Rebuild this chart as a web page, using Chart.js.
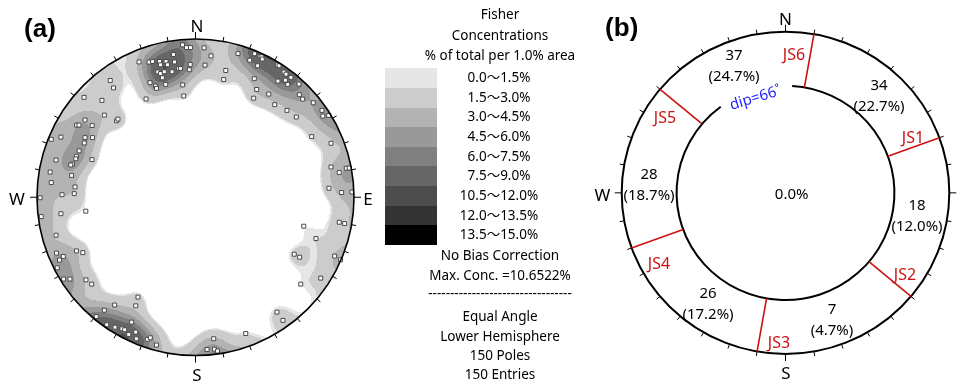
<!DOCTYPE html>
<html><head><meta charset="utf-8">
<script src="https://cdn.jsdelivr.net/npm/chart.js@4.4.1/dist/chart.umd.min.js"></script>
<style>
html,body{margin:0;padding:0;background:#fff}
body{width:962px;height:384px;position:relative;overflow:hidden;font-family:"Noto Sans","Noto Sans CJK SC",sans-serif;color:#000}
canvas{position:absolute;top:0}
.t{position:absolute;white-space:nowrap;transform:translate(-50%,-50%);line-height:1}
.sw{position:absolute}
</style></head><body>
<canvas id="ca" width="390" height="384" style="left:0"></canvas>
<canvas id="cb" width="382" height="384" style="left:580px"></canvas>
<script>
// ---------------- DATA ----------------
// (a) poles, equal-angle lower-hemisphere net coordinates (east, north), unit = primitive radius
const poleEast = [-0.082,-0.057,-0.032,-0.139,-0.356,-0.293,-0.271,-0.227,-0.186,-0.132,-0.221,-0.177,-0.033,-0.107,-0.095,-0.238,-0.221,-0.197,-0.148,-0.039,-0.209,-0.287,-0.252,-0.246,-0.188,-0.081,-0.074,-0.312,0.054,0.098,0.060,0.191,0.178,
 0.268,0.373,0.407,0.418,0.421,0.342,0.392,0.516,0.527,0.558,0.571,0.602,0.520,0.567,0.582,0.653,0.371,0.386,0.367,0.462,0.655,0.676,0.743,0.500,0.577,0.636,0.798,0.803,0.840,0.733,0.855,
 0.855,0.907,0.951,0.970,0.842,0.922,0.987,0.907,0.941,0.683,0.760,0.623,0.657,0.878,0.915,
 0.790,0.664,0.514,0.552,0.317,
 0.115,0.073,0.120,0.139,
 -0.877,-0.834,-0.858,-0.751,-0.711,-0.872,-0.832,-0.792,-0.691,-0.655,-0.363,-0.377,-0.510,-0.575,-0.626,-0.403,-0.560,-0.508,-0.464,-0.447,-0.377,-0.421,-0.373,-0.304,-0.285,-0.246,
 -0.538,-0.517,-0.590,-0.703,-0.575,-0.498,-0.489,-0.697,-0.750,-0.735,-0.652,-0.849,-0.910,-0.697,-0.702,-0.650,-0.734,-0.751,-0.755,-0.776,-0.787,-0.880,-0.653,-0.917,-0.782,-0.910,-0.760,-0.765,-0.842,-0.980,-0.973,-0.849,-0.692,-0.880];
const poleNorth = [0.963,0.946,0.946,0.902,0.855,0.854,0.858,0.858,0.858,0.855,0.837,0.837,0.839,0.814,0.814,0.792,0.782,0.793,0.793,0.806,0.755,0.724,0.703,0.688,0.713,0.710,0.640,0.621,0.944,0.893,0.835,0.801,0.744,
 0.908,0.907,0.891,0.888,0.873,0.866,0.831,0.837,0.831,0.791,0.778,0.757,0.734,0.740,0.713,0.715,0.749,0.681,0.626,0.652,0.648,0.620,0.597,0.585,0.549,0.507,0.549,0.513,0.517,0.383,0.341,
 0.191,0.156,0.183,0.185,0.057,0.030,0.033,-0.158,-0.166,-0.183,-0.261,-0.360,-0.379,-0.372,-0.395,
 -0.511,-0.549,-0.726,-0.778,-0.861,
 -0.894,-0.962,-0.960,-0.972,
 -0.353,-0.374,-0.397,-0.339,-0.350,-0.446,-0.517,-0.517,-0.522,-0.549,-0.631,-0.686,-0.681,-0.714,-0.754,-0.789,-0.806,-0.821,-0.831,-0.837,-0.852,-0.867,-0.894,-0.898,-0.888,-0.934,
 0.738,0.691,0.612,0.631,0.519,0.483,0.494,0.488,0.456,0.456,0.453,0.380,0.366,0.377,0.343,0.377,0.293,0.259,0.243,0.210,0.204,0.235,0.238,0.159,0.138,0.093,0.065,0.023,0.016,-0.003,-0.122,-0.104,-0.088,-0.240];
// Fisher concentration bands (% of total per 1.0% area)
const contourLow  = [0.0, 1.5, 3.0, 4.5, 6.0, 7.5, 10.5, 12.0, 13.5];
const contourHigh = [1.5, 3.0, 4.5, 6.0, 7.5, 9.0, 12.0, 13.5, 15.0];
const maxConcValue = 10.6522;
const fisherK = 130;
const minShade = 1.3;
const poleCount = 150, entryCount = 150;
const compassLabels = ['N','E','S','W'];
// (b) joint sets
const setNames = ['JS1','JS2','JS3','JS4','JS5','JS6'];
const setBoundaryAz = [70, 130, 190, 250, 310, 10];
const sectorCounts = [18, 7, 26, 28, 37, 34];          // sector clockwise after each set boundary
const sectorPercent = ['12.0%','4.7%','17.2%','18.7%','24.7%','22.7%'];
const centerPercent = '0.0%';
const dipLimit = 66;

// ---------------- STYLE / LAYOUT ----------------
const bandColors = ['#e6e6e6','#cccccc','#b3b3b3','#999999','#808080','#666666','#4d4d4d','#333333','#000000'];
const innerR = 0.665, arcFromAz = 3.5, arcToAz = 323.5;
const setLabelPos = [[913,137],[905,274],[779,342],[659,263],[665,117],[794,54]];
const sectorLabelPos = [[917,204],[832,308],[708,292],[649,173],[734,54],[879,84]];

function addText(str,x,y,css){const d=document.createElement('div');d.className='t';d.textContent=str;d.style.left=x+'px';d.style.top=y+'px';Object.assign(d.style,css||{});document.body.appendChild(d);return d;}

function netGeom(chart){const xs=chart.scales.x,ys=chart.scales.y;const cx=xs.getPixelForValue(0),cy=ys.getPixelForValue(0);return {cx,cy,rx:xs.getPixelForValue(1)-cx,ry:cy-ys.getPixelForValue(1)};}
function drawTicks(ctx,g,lw){ctx.save();ctx.strokeStyle='#000';ctx.lineWidth=lw;
  for(let a=0;a<360;a+=10){const t=a*Math.PI/180,len=(a%90===0)?7:4.5;const s=Math.sin(t),c=Math.cos(t);
    ctx.beginPath();ctx.moveTo(g.cx+g.rx*s,g.cy-g.ry*c);ctx.lineTo(g.cx+(g.rx+len)*s,g.cy-(g.ry+len)*c);ctx.stroke();}
  ctx.restore();}

// ---------------- (a) stereonet ----------------
const pv = poleEast.map((e,i)=>{const n=poleNorth[i];const r2=e*e+n*n;const s=1/(1+r2);return [2*e*s,2*n*s,(1-r2)*s];});
function shade(v){if(v<minShade)return null;let k=0;for(let i=0;i<contourLow.length;i++){if(v>=contourLow[i])k=i;}return bandColors[k];}
let rawMax=0;
const contourPlugin={id:'contour',beforeDatasetsDraw(chart){
  const ctx=chart.ctx,xs=chart.scales.x,ys=chart.scales.y,g=netGeom(chart);
  const N=pv.length,K=fisherK;
  const L=Math.floor(g.cx-g.rx)-1,R=Math.ceil(g.cx+g.rx)+1,T=Math.floor(g.cy-g.ry)-1,B=Math.ceil(g.cy+g.ry)+1;
  const W=R-L+1,H=B-T+1;const vals=new Float32Array(W*H).fill(-1);
  for(let py=T;py<=B;py++)for(let px=L;px<=R;px++){
    const x=xs.getValueForPixel(px+0.5),y=ys.getValueForPixel(py+0.5);const r2=x*x+y*y;
    if(r2>1.03)continue;const s=1/(1+r2),e=2*x*s,n=2*y*s,d=(1-r2)*s;let sum=0;
    for(let j=0;j<N;j++){const p=pv[j];let c=e*p[0]+n*p[1]+d*p[2];if(c<0)c=-c;const q=K*(c-1);if(q>-30)sum+=Math.exp(q);}
    const v=K*sum/N;vals[(py-T)*W+(px-L)]=v;if(v>rawMax)rawMax=v;}
  const scale=maxConcValue/rawMax;
  ctx.save();ctx.beginPath();ctx.ellipse(g.cx,g.cy,g.rx,g.ry,0,0,Math.PI*2);ctx.clip();
  for(let py=T;py<=B;py++){let runStart=L,runCol=null;
    for(let px=L;px<=R+1;px++){let col=null;
      if(px<=R){const v=vals[(py-T)*W+(px-L)];if(v>=0)col=shade(v*scale);}
      if(col!==runCol){if(runCol){ctx.fillStyle=runCol;ctx.fillRect(runStart,py,px-runStart,1);}runStart=px;runCol=col;}
    }}
  ctx.restore();
},afterDatasetsDraw(chart){const ctx=chart.ctx,g=netGeom(chart);
  ctx.save();ctx.strokeStyle='#000';ctx.lineWidth=1.6;ctx.beginPath();ctx.ellipse(g.cx,g.cy,g.rx,g.ry,0,0,Math.PI*2);ctx.stroke();ctx.restore();
  drawTicks(ctx,g,1);}};

new Chart(document.getElementById('ca'),{type:'scatter',
  data:{datasets:[{data:poleEast.map((e,i)=>({x:e,y:poleNorth[i]})),pointStyle:'rect',pointRadius:2.8,pointHoverRadius:2.8,borderWidth:1,borderColor:'#4a4a4a',backgroundColor:'#ffffff'}]},
  options:{responsive:false,animation:false,events:[],layout:{padding:{left:37,right:36,top:39,bottom:28.5}},
    scales:{x:{type:'linear',min:-1,max:1,display:false},y:{type:'linear',min:-1,max:1,display:false}},
    plugins:{legend:{display:false},tooltip:{enabled:false}}},
  plugins:[contourPlugin]});

// ---------------- (b) joint-set diagram ----------------
const ringPlugin={id:'ring',beforeDatasetsDraw(chart){const ctx=chart.ctx,g=netGeom(chart);
  ctx.save();ctx.strokeStyle='#000';ctx.lineWidth=2;
  ctx.beginPath();ctx.ellipse(g.cx,g.cy,g.rx,g.ry,0,0,Math.PI*2);ctx.stroke();
  ctx.beginPath();ctx.ellipse(g.cx,g.cy,g.rx*innerR,g.ry*innerR,0,(arcFromAz-90)*Math.PI/180,(arcToAz-90)*Math.PI/180,false);ctx.stroke();
  ctx.restore();drawTicks(ctx,g,1);}};
const jsData=setBoundaryAz.map(a=>{const t=a*Math.PI/180;return {type:'line',data:[{x:innerR*Math.sin(t),y:innerR*Math.cos(t)},{x:Math.sin(t),y:Math.cos(t)}],
  borderColor:'#cc1111',borderWidth:1.6,pointRadius:0,pointHoverRadius:0,showLine:true,fill:false};});
new Chart(document.getElementById('cb'),{type:'scatter',data:{datasets:jsData},
  options:{responsive:false,animation:false,events:[],layout:{padding:{left:41.7,right:12.7,top:31.7,bottom:30}},
    scales:{x:{type:'linear',min:-1,max:1,display:false},y:{type:'linear',min:-1,max:1,display:false}},
    plugins:{legend:{display:false},tooltip:{enabled:false}}},
  plugins:[ringPlugin]});

// ---------------- text ----------------
const bold={fontFamily:'"Liberation Sans",Arial,sans-serif',fontWeight:'bold',fontSize:'26px'};
addText('(a)',40,27.5,bold);addText('(b)',621.7,27,bold);
const cf={fontSize:'17px'};
[[197,25],[368,198],[197,374],[17,198]].forEach((p,i)=>addText(compassLabels[i],p[0],p[1],cf));
[[785.5,17.5],[966,193],[786,371.7],[602.5,194]].forEach((p,i)=>addText(compassLabels[i],p[0],p[1],cf));
// legend
const lf={fontSize:'13.5px'};
addText('Fisher',500,15,lf);addText('Concentrations',500,36,lf);addText('% of total per 1.0% area',500,55.5,lf);
const rowTop=68.3,rowH=19.63;
contourLow.forEach((lo,i)=>{const d=document.createElement('div');d.className='sw';d.style.left='385px';d.style.width='52px';
  d.style.top=(rowTop+i*rowH)+'px';d.style.height=(rowH+0.5)+'px';d.style.background=bandColors[i];document.body.appendChild(d);
  addText(lo.toFixed(1)+'～'+contourHigh[i].toFixed(1)+'%',499,rowTop+i*rowH+rowH/2,lf);});
addText('No Bias Correction',500,256,lf);addText('Max. Conc. ='+maxConcValue.toFixed(4)+'%',500,276,lf);
addText('-'.repeat(33),500,294,lf);
addText('Equal Angle',500,316.7,lf);addText('Lower Hemisphere',500,336.7,lf);
addText(poleCount+' Poles',500,356,lf);addText(entryCount+' Entries',500,375,lf);
// (b) labels
const sf={fontSize:'15px'};
sectorCounts.forEach((c,i)=>{const p=sectorLabelPos[i];addText(String(c),p[0],p[1],sf);addText('('+sectorPercent[i]+')',p[0],p[1]+20.5,sf);});
addText(centerPercent,791.7,192.7,sf);
setNames.forEach((s,i)=>{const p=setLabelPos[i];addText(s,p[0],p[1],{fontSize:'16px',color:'#cc1111'});});
addText('dip='+dipLimit+'˚',755,96.7,{fontSize:'15px',color:'#1f1fff',transform:'translate(-50%,-50%) rotate(-17deg)'});
</script></body></html>
